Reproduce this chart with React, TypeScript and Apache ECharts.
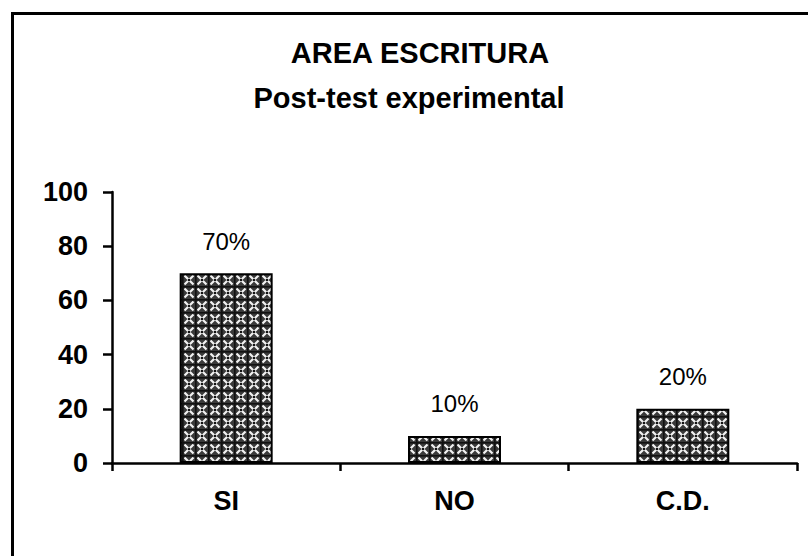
import React, { useEffect, useRef } from "react";
import * as echarts from "echarts";

const categories = ["SI", "NO", "C.D."];
const values = [70, 10, 20];
const valueLabels = ["70%", "10%", "20%"];
const yTicks = [0, 20, 40, 60, 80, 100];
const titleLine1 = "AREA ESCRITURA";
const titleLine2 = "Post-test experimental";

function makePattern(): string {
  const s = 13;
  const c = document.createElement("canvas");
  c.width = s;
  c.height = s;
  const g = c.getContext("2d")!;
  g.fillStyle = "#3a3a3a";
  g.fillRect(0, 0, s, s);
  g.strokeStyle = "#f2f2f2";
  g.lineWidth = 2.2;
  g.beginPath();
  g.moveTo(2.5, 2.5);
  g.lineTo(s - 1.5, s - 1.5);
  g.moveTo(s - 1.5, 2.5);
  g.lineTo(2.5, s - 1.5);
  g.stroke();
  g.fillStyle = "#111";
  g.beginPath();
  g.arc(s / 2 + 0.5, s / 2 + 0.5, 1.3, 0, Math.PI * 2);
  g.fill();
  g.fillStyle = "#111";
  g.fillRect(0, 0, s, 1.6);
  g.fillRect(0, 0, 1.6, s);
  return c.toDataURL();
}

export default function App() {
  const ref = useRef<HTMLDivElement>(null);
  useEffect(() => {
    document.body.style.margin = "0";
    const chart = echarts.init(ref.current!, null, { renderer: "svg" });
    const pattern = makePattern();
    const font = "'Liberation Sans', Arial, sans-serif";
    chart.setOption({
      animation: false,
      backgroundColor: "#ffffff",
      title: [
        {
          text: titleLine1,
          left: 420,
          top: 38,
          textAlign: "center",
          padding: 0,
          textStyle: { fontFamily: font, fontWeight: "bold", fontSize: 29, color: "#000" },
        },
        {
          text: titleLine2,
          left: 409,
          top: 83,
          textAlign: "center",
          padding: 0,
          textStyle: { fontFamily: font, fontWeight: "bold", fontSize: 29, color: "#000" },
        },
      ],
      graphic: [
        {
          type: "rect",
          shape: { x: 12.5, y: 13.5, width: 830, height: 600 },
          style: { fill: "none", stroke: "#000", lineWidth: 3 },
          silent: true,
        },
      ],
      grid: { left: 112, right: 11, top: 192, bottom: 93, containLabel: false },
      xAxis: {
        type: "category",
        data: categories,
        axisLine: { lineStyle: { color: "#000", width: 2.5 } },
        axisTick: { show: true, inside: false, length: 8, alignWithLabel: false, lineStyle: { color: "#000", width: 2.5 } },
        axisLabel: { margin: 24, color: "#000", fontFamily: font, fontWeight: "bold", fontSize: 27 },
        splitLine: { show: false },
      },
      yAxis: {
        type: "value",
        min: yTicks[0],
        max: yTicks[yTicks.length - 1],
        interval: yTicks[1] - yTicks[0],
        axisLine: { show: true, lineStyle: { color: "#000", width: 2.5 } },
        axisTick: { show: true, inside: false, length: 9, lineStyle: { color: "#000", width: 2.5 } },
        axisLabel: { margin: 24, color: "#000", fontFamily: font, fontWeight: "bold", fontSize: 27 },
        splitLine: { show: false },
      },
      series: [
        {
          type: "bar",
          data: values,
          barWidth: 93,
          itemStyle: {
            color: { image: pattern, repeat: "repeat" },
            borderColor: "#000",
            borderWidth: 2,
          },
          label: {
            show: true,
            position: "top",
            distance: 20,
            color: "#000",
            fontFamily: font,
            fontSize: 24,
            formatter: (p: any) => valueLabels[p.dataIndex],
          },
        },
      ],
    });
    return () => chart.dispose();
  }, []);
  return <div ref={ref} style={{ width: 808, height: 556 }} />;
}
